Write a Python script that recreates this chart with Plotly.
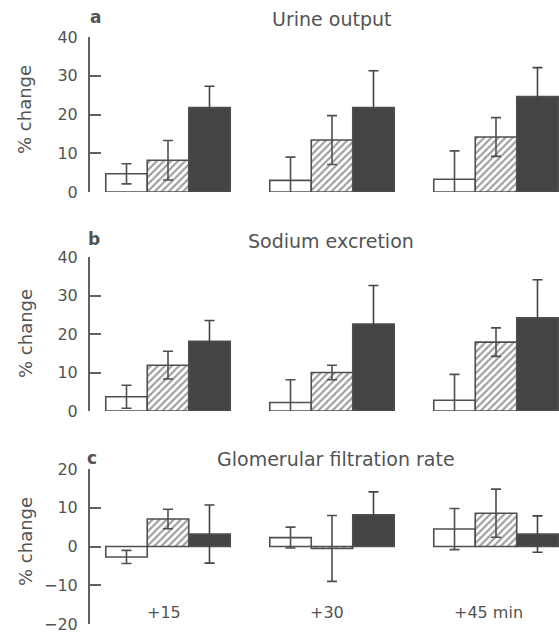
import plotly.graph_objects as go

W, H = 559, 636

# ---------------- data ----------------
times = ["+15", "+30", "+45 min"]
groups = ["open", "hatched", "solid"]

urine_open = [4.7, 3.0, 3.3]
urine_open_err = [2.6, 6.0, 7.3]
urine_hatched = [8.2, 13.4, 14.2]
urine_hatched_err = [5.1, 6.3, 5.0]
urine_solid = [21.8, 21.8, 24.6]
urine_solid_err = [5.5, 9.5, 7.5]

sodium_open = [3.7, 2.2, 2.8]
sodium_open_err = [3.0, 5.9, 6.7]
sodium_hatched = [11.9, 10.0, 17.9]
sodium_hatched_err = [3.6, 1.9, 3.7]
sodium_solid = [18.1, 22.6, 24.2]
sodium_solid_err = [5.4, 10.0, 9.9]

gfr_open = [-2.7, 2.3, 4.5]
gfr_open_err = [1.7, 2.7, 5.3]
gfr_hatched = [7.1, -0.5, 8.6]
gfr_hatched_err = [2.5, 8.5, 6.2]
gfr_solid = [3.2, 8.2, 3.2]
gfr_solid_err = [7.5, 5.9, 4.7]

panel_titles = ["Urine output", "Sodium excretion", "Glomerular filtration rate"]
panel_letters = ["a", "b", "c"]
y_ranges = [[0, 40], [0, 40], [-20, 20]]
y_ticks = [[0, 10, 20, 30, 40], [0, 10, 20, 30, 40], [-20, -10, 0, 10, 20]]
y_title = "% change"

# ---------------- style ----------------
FONT = "DejaVu Sans"
TXT = "#535353"
AX = "#606060"
EDGE = "#4f4f4f"
DARK = "#444444"


def px_to_paper_x(px):
    return px / W


def px_to_paper_y(py):
    return 1 - py / H


# pixel positions of the y axes (top tick, bottom tick)
axis_px = [(37, 192), (257, 411), (469, 624)]
axis_x_px = 90

fig = go.Figure()

panels = [
    (urine_open, urine_open_err, urine_hatched, urine_hatched_err, urine_solid, urine_solid_err),
    (sodium_open, sodium_open_err, sodium_hatched, sodium_hatched_err, sodium_solid, sodium_solid_err),
    (gfr_open, gfr_open_err, gfr_hatched, gfr_hatched_err, gfr_solid, gfr_solid_err),
]

idx = list(range(len(times)))

for i, (o, oe, h, he, s, se) in enumerate(panels):
    xa = "x" if i == 0 else f"x{i+1}"
    ya = "y" if i == 0 else f"y{i+1}"
    eb = lambda arr, c=EDGE: dict(type="data", array=arr, color=c, thickness=1.6, width=5)
    fig.add_trace(go.Bar(x=idx, y=o, error_y=eb(oe), xaxis=xa, yaxis=ya,
                         marker=dict(color="white", line=dict(color=EDGE, width=1.6)),
                         showlegend=False, name=groups[0]))
    fig.add_trace(go.Bar(x=idx, y=h, error_y=eb(he), xaxis=xa, yaxis=ya,
                         marker=dict(color="white", line=dict(color=EDGE, width=1.6),
                                     pattern=dict(shape="/", fgcolor="#3c3c3c", bgcolor="white",
                                                  size=5, solidity=0.42)),
                         showlegend=False, name=groups[1]))
    fig.add_trace(go.Bar(x=idx, y=s, error_y=eb(se, DARK), xaxis=xa, yaxis=ya,
                         marker=dict(color=DARK, line=dict(color=EDGE, width=1.6)),
                         showlegend=False, name=groups[2]))

layout = dict(
    width=W, height=H,
    margin=dict(l=0, r=0, t=0, b=0, autoexpand=False),
    paper_bgcolor="white", plot_bgcolor="white",
    barmode="group", bargap=0.241, bargroupgap=0,
    font=dict(family=FONT, color=TXT, size=16),
    showlegend=False,
)

x_dom = [px_to_paper_x(axis_x_px), 1.0]
x_range = [-(168 - axis_x_px) / 164.0, 2 + (W - 496) / 164.0]

annotations = []
for i in range(3):
    sx = "" if i == 0 else str(i + 1)
    top, bot = axis_px[i]
    layout["xaxis" + sx] = dict(domain=x_dom, range=x_range, visible=False,
                                anchor="y" + sx, type="linear")
    layout["yaxis" + sx] = dict(
        domain=[px_to_paper_y(bot), px_to_paper_y(top)],
        range=y_ranges[i], tickvals=y_ticks[i],
        anchor="x" + sx, showline=True, linecolor=AX, linewidth=2,
        ticks="inside", ticklen=11, tickwidth=2, tickcolor=AX,
        showgrid=False, zeroline=False, automargin=False,
        ticklabelstandoff=7, ticklabeloverflow="allow",
        tickfont=dict(family=FONT, size=16, color=TXT),
    )

title_pos = [(331, 19), (330.5, 241), (335.5, 459)]
letter_pos = [(95, 17), (94, 239), (91.5, 458)]
ytitle_pos = [(25, 110), (25, 334), (25, 542)]
for i in range(3):
    tx, ty = title_pos[i]
    annotations.append(dict(text=panel_titles[i], x=px_to_paper_x(tx), y=px_to_paper_y(ty),
                            xref="paper", yref="paper", xanchor="center", yanchor="middle",
                            showarrow=False, font=dict(family=FONT, size=19, color=TXT)))
    lx, ly = letter_pos[i]
    annotations.append(dict(text="<b>" + panel_letters[i] + "</b>", x=px_to_paper_x(lx),
                            y=px_to_paper_y(ly), xref="paper", yref="paper",
                            xanchor="center", yanchor="middle", showarrow=False,
                            font=dict(family=FONT, size=17, color=TXT)))
    yx, yy = ytitle_pos[i]
    annotations.append(dict(text=y_title, x=px_to_paper_x(yx), y=px_to_paper_y(yy),
                            xref="paper", yref="paper", xanchor="center", yanchor="middle",
                            textangle=-90, showarrow=False,
                            font=dict(family=FONT, size=18, color=TXT)))

# time labels under panel c
shifts = [-4, -5.5, -8]
for j, t in enumerate(times):
    annotations.append(dict(text=t, x=idx[j], y=px_to_paper_y(612), xref="x3", yref="paper",
                            xanchor="center", yanchor="middle", xshift=shifts[j],
                            showarrow=False, font=dict(family=FONT, size=16, color=TXT)))

layout["annotations"] = annotations
fig.update_layout(**layout)

fig.write_html("out.html")
